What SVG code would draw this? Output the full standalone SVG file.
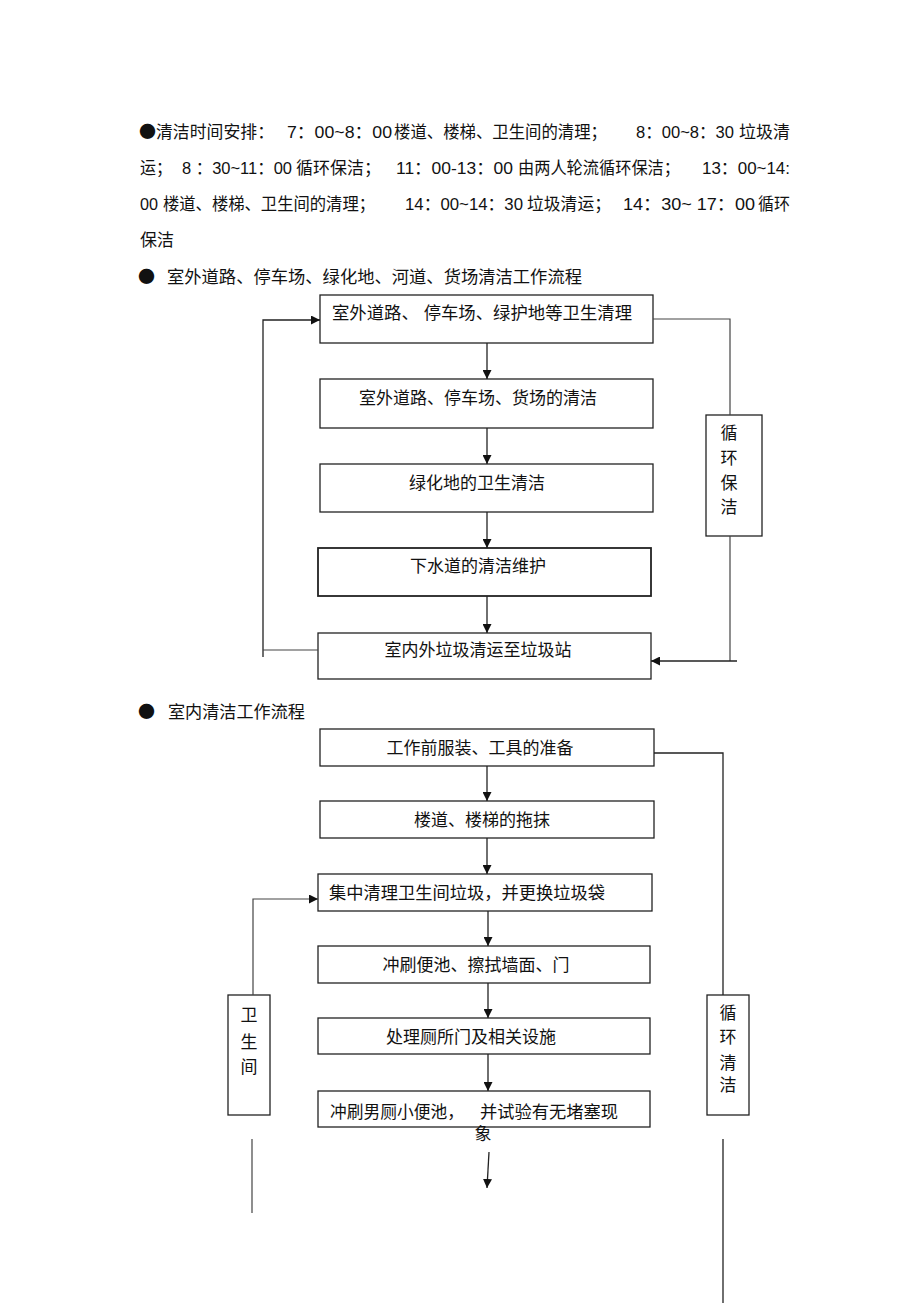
<svg xmlns="http://www.w3.org/2000/svg" width="920" height="1303" viewBox="0 0 920 1303">
<style>
text{font-family:"Liberation Sans","Noto Sans CJK SC",sans-serif;font-size:17px;fill:#111}
.c{text-anchor:middle}
.b{font-family:"Noto Sans CJK SC","DejaVu Sans",sans-serif}
.box{fill:#fff;stroke:#222;stroke-width:1.3}
.ln{fill:none;stroke:#222;stroke-width:1.3}
.lg{fill:none;stroke:#444;stroke-width:1.2}
</style>
<defs>
<marker id="ah" viewBox="0 0 10 10" refX="10" refY="5" markerWidth="9" markerHeight="9" markerUnits="userSpaceOnUse" orient="auto">
<path d="M0,0 L10,5 L0,10 z" fill="#111"/>
</marker>
</defs>
<rect width="920" height="1303" fill="#fff"/>

<g id="schedule">
<text x="139" y="138" class="b">●</text>
<text x="156" y="138" textLength="118" lengthAdjust="spacingAndGlyphs">清洁时间安排：</text>
<text x="287" y="138" textLength="105" lengthAdjust="spacingAndGlyphs">7：00~8：00</text>
<text x="394" y="138" textLength="213" lengthAdjust="spacingAndGlyphs">楼道、楼梯、卫生间的清理；</text>
<text x="636" y="138" textLength="98" lengthAdjust="spacingAndGlyphs">8：00~8：30</text>
<text x="739" y="138" textLength="51" lengthAdjust="spacingAndGlyphs">垃圾清</text>

<text x="140" y="174" textLength="32" lengthAdjust="spacingAndGlyphs">运；</text>
<text x="182" y="174" textLength="110" lengthAdjust="spacingAndGlyphs">8 ：30~11：00</text>
<text x="296" y="174" textLength="85" lengthAdjust="spacingAndGlyphs">循环保洁；</text>
<text x="396" y="174" textLength="117" lengthAdjust="spacingAndGlyphs">11：00-13：00</text>
<text x="518" y="174" textLength="162" lengthAdjust="spacingAndGlyphs">由两人轮流循环保洁；</text>
<text x="702" y="174" textLength="88" lengthAdjust="spacingAndGlyphs">13：00~14:</text>

<text x="140" y="210" textLength="18" lengthAdjust="spacingAndGlyphs">00</text>
<text x="163" y="210" textLength="212" lengthAdjust="spacingAndGlyphs">楼道、楼梯、卫生间的清理；</text>
<text x="405" y="210" textLength="118" lengthAdjust="spacingAndGlyphs">14：00~14：30</text>
<text x="527" y="210" textLength="84" lengthAdjust="spacingAndGlyphs">垃圾清运；</text>
<text x="623" y="210" textLength="132" lengthAdjust="spacingAndGlyphs">14：30~ 17：00</text>
<text x="758" y="210" textLength="32" lengthAdjust="spacingAndGlyphs">循环</text>

<text x="140" y="246">保洁</text>
</g>

<g id="heading1">
<text x="138" y="283" class="b">●</text>
<text x="167" y="283" textLength="415" lengthAdjust="spacingAndGlyphs">室外道路、停车场、绿化地、河道、货场清洁工作流程</text>
</g>

<g id="f1-n1"><rect class="box" x="320" y="295" width="333" height="48"/><text x="332" y="319" textLength="300" lengthAdjust="spacingAndGlyphs">室外道路、 停车场、绿护地等卫生清理</text></g>
<g id="f1-n2"><rect class="box" x="320" y="379" width="333" height="49"/><text class="c" x="478" y="404">室外道路、停车场、货场的清洁</text></g>
<g id="f1-n3"><rect class="box" x="320" y="464" width="333" height="48"/><text class="c" x="477" y="489">绿化地的卫生清洁</text></g>
<g id="f1-n4"><rect class="box" x="318" y="548" width="333" height="48" style="stroke-width:1.8"/><text class="c" x="478" y="572">下水道的清洁维护</text></g>
<g id="f1-n5"><rect class="box" x="318" y="633" width="333" height="46"/><text class="c" x="478" y="656">室内外垃圾清运至垃圾站</text></g>
<g id="f1-side"><rect class="box" x="706" y="415" width="56" height="121"/>
<text class="c" x="729" y="439">循</text><text class="c" x="729" y="464">环</text><text class="c" x="729" y="489">保</text><text class="c" x="729" y="513">洁</text></g>

<g id="heading2">
<text x="138" y="718" class="b">●</text>
<text x="168" y="718" textLength="137" lengthAdjust="spacingAndGlyphs">室内清洁工作流程</text>
</g>

<g id="f2-n1"><rect class="box" x="320" y="729" width="334" height="37"/><text class="c" x="480" y="754">工作前服装、工具的准备</text></g>
<g id="f2-n2"><rect class="box" x="320" y="801" width="334" height="37"/><text class="c" x="482" y="826">楼道、楼梯的拖抹</text></g>
<g id="f2-n3"><rect class="box" x="318" y="874" width="334" height="37"/><text x="329" y="899" textLength="276" lengthAdjust="spacingAndGlyphs">集中清理卫生间垃圾，并更换垃圾袋</text></g>
<g id="f2-n4"><rect class="box" x="318" y="946" width="332" height="37"/><text class="c" x="476" y="971">冲刷便池、擦拭墙面、门</text></g>
<g id="f2-n5"><rect class="box" x="318" y="1018" width="332" height="36"/><text class="c" x="471" y="1043">处理厕所门及相关设施</text></g>
<g id="f2-n6"><rect class="box" x="318" y="1091" width="332" height="36"/>
<text x="330" y="1118" textLength="134" lengthAdjust="spacingAndGlyphs">冲刷男厕小便池，</text>
<text x="480" y="1118" textLength="138" lengthAdjust="spacingAndGlyphs">并试验有无堵塞现</text>
<text class="c" x="483" y="1140">象</text></g>
<g id="f2-left"><rect class="box" x="228" y="995" width="42" height="120"/>
<text class="c" x="249" y="1021">卫</text><text class="c" x="249" y="1048">生</text><text class="c" x="249" y="1073">间</text></g>
<g id="f2-right"><rect class="box" x="707" y="995" width="42" height="120"/>
<text class="c" x="728" y="1019">循</text><text class="c" x="728" y="1043">环</text><text class="c" x="728" y="1069">清</text><text class="c" x="728" y="1091">洁</text></g>

<g id="connectors">
<path class="ln" d="M487,343 V379" marker-end="url(#ah)"/>
<path class="ln" d="M487,428 V464" marker-end="url(#ah)"/>
<path class="ln" d="M487,512 V548" marker-end="url(#ah)"/>
<path class="ln" d="M487,596 V633" marker-end="url(#ah)"/>
<path class="ln" d="M263,657 V320 H320" marker-end="url(#ah)"/>
<path class="lg" d="M263,650 H318"/>
<path class="lg" d="M653,319 H730 V415"/>
<path class="lg" d="M730,536 V661"/>
<path class="ln" d="M737,661 H651" marker-end="url(#ah)"/>

<path class="ln" d="M487,766 V801" marker-end="url(#ah)"/>
<path class="ln" d="M487,838 V874" marker-end="url(#ah)"/>
<path class="ln" d="M488,911 V946" marker-end="url(#ah)"/>
<path class="ln" d="M488,983 V1018" marker-end="url(#ah)"/>
<path class="ln" d="M488,1054 V1091" marker-end="url(#ah)"/>
<path class="ln" d="M489,1152 L487,1188" marker-end="url(#ah)"/>
<path class="lg" d="M253,995 V899 H318" marker-end="url(#ah)"/>
<path class="lg" d="M252,1139 V1213"/>
<path class="ln" d="M654,753 H723 V995"/>
<path class="ln" d="M723,1139 V1303"/>
</g>
</svg>
